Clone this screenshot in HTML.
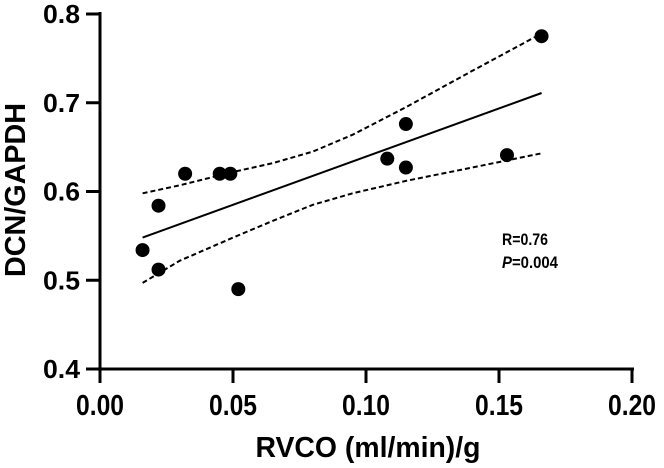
<!DOCTYPE html>
<html><head><meta charset="utf-8"><style>
html,body{margin:0;padding:0;background:#fff;}
svg{display:block;font-family:"Liberation Sans",Arial,sans-serif;font-weight:bold;}
</style></head><body>
<svg id="chart" width="664" height="468" viewBox="0 0 664 468" xmlns="http://www.w3.org/2000/svg"></svg>
<script>
const xTicks = [0.00, 0.05, 0.10, 0.15, 0.20];
const xTickLabels = ["0.00", "0.05", "0.10", "0.15", "0.20"];
const yTicks = [0.4, 0.5, 0.6, 0.7, 0.8];
const yTickLabels = ["0.4", "0.5", "0.6", "0.7", "0.8"];
const pointsX = [0.016, 0.022, 0.022, 0.032, 0.045, 0.049, 0.052, 0.108, 0.115, 0.115, 0.153, 0.166];
const pointsY = [0.534, 0.512, 0.584, 0.620, 0.620, 0.620, 0.490, 0.637, 0.676, 0.627, 0.641, 0.775];
const fitX = [0.016, 0.166];
const fitY = [0.548, 0.711];
const ciX = [0.016, 0.03, 0.05, 0.065, 0.08, 0.095, 0.115, 0.14, 0.166];
const ciUpper = [0.598, 0.607, 0.622, 0.632, 0.645, 0.664, 0.695, 0.736, 0.778];
const ciLower = [0.497, 0.522, 0.548, 0.567, 0.585, 0.598, 0.612, 0.627, 0.643];

const X0 = 100, X1 = 632, Y0 = 369, Y1 = 14;
const sx = v => X0 + (v - 0) / 0.20 * (X1 - X0);
const sy = v => Y0 - (v - 0.4) / 0.4 * (Y0 - Y1);
const svg = document.getElementById('chart');
const NS = 'http://www.w3.org/2000/svg';
function mk(tag, attrs, parent) {
  const el = document.createElementNS(NS, tag);
  for (const k in attrs) el.setAttribute(k, attrs[k]);
  (parent || svg).appendChild(el);
  return el;
}
let a = mk('line', {x1: X0, y1: Y1 - 2, x2: X0, y2: Y0 + 1, stroke: '#000', 'stroke-width': 3});


a = mk('line', {x1: X0 - 1, y1: Y0, x2: X1 + 2, y2: Y0, stroke: '#000', 'stroke-width': 3});


xTicks.forEach((v, i) => {
  const t = mk('line', {x1: sx(v), y1: Y0, x2: sx(v), y2: Y0 + 14, stroke: '#000', 'stroke-width': 3});
  
  
  const l = mk('text', {x: sx(v), y: 415, 'text-anchor': 'middle', 'font-size': 29, textLength: 48, lengthAdjust: 'spacingAndGlyphs'});
  l.textContent = xTickLabels[i];
  
  
});
yTicks.forEach((v, i) => {
  const t = mk('line', {x1: X0 - 14, y1: sy(v), x2: X0, y2: sy(v), stroke: '#000', 'stroke-width': 3});
  
  
  const l = mk('text', {x: 80, y: sy(v) + 9, 'text-anchor': 'end', 'font-size': 26, textLength: 37, lengthAdjust: 'spacingAndGlyphs'});
  l.textContent = yTickLabels[i];
  
  
});
let t = mk('text', {x: 368, y: 457, 'text-anchor': 'middle', 'font-size': 29, textLength: 225, lengthAdjust: 'spacingAndGlyphs'});
t.textContent = 'RVCO (ml/min)/g';


t = mk('text', {x: 0, y: 0, 'text-anchor': 'middle', 'font-size': 29, textLength: 174, lengthAdjust: 'spacingAndGlyphs', transform: 'translate(25,190) rotate(-90)'});
t.textContent = 'DCN/GAPDH';


function pathOf(xs, ys) { return xs.map((x, i) => (i ? 'L' : 'M') + sx(x).toFixed(1) + ',' + sy(ys[i]).toFixed(1)).join(' '); }
let p = mk('path', {d: pathOf(ciX, ciUpper), fill: 'none', stroke: '#000', 'stroke-width': 2, 'stroke-dasharray': '5,3'});


p = mk('path', {d: pathOf(ciX, ciLower), fill: 'none', stroke: '#000', 'stroke-width': 2, 'stroke-dasharray': '5,3'});


p = mk('path', {d: pathOf(fitX, fitY), fill: 'none', stroke: '#000', 'stroke-width': 2});


pointsX.forEach((x, i) => {
  const c = mk('circle', {cx: sx(x), cy: sy(pointsY[i]), r: 7, fill: '#000'});
  
  
});
t = mk('text', {x: 502, y: 245, 'font-size': 17, textLength: 46, lengthAdjust: 'spacingAndGlyphs'});
t.textContent = 'R=0.76';


t = mk('text', {x: 502, y: 268, 'font-size': 17, textLength: 56, lengthAdjust: 'spacingAndGlyphs'});
t.innerHTML = '<tspan font-style="italic">P</tspan>=0.004';


</script>
</body></html>
